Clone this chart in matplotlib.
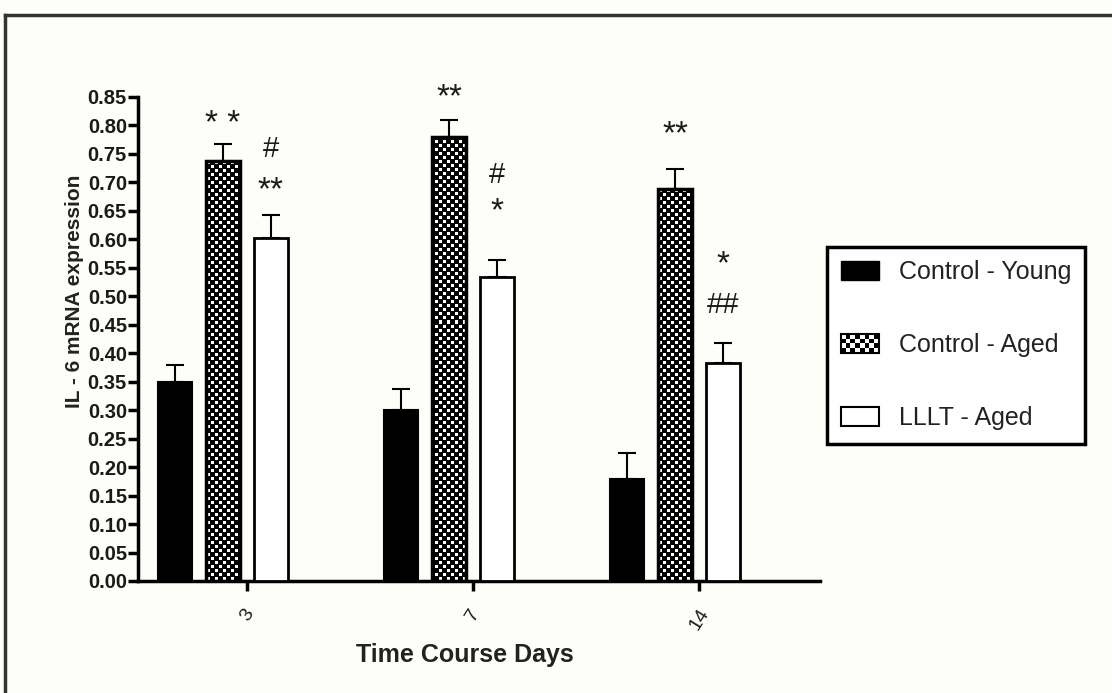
import numpy as np
import matplotlib
matplotlib.use("Agg")
import matplotlib.pyplot as plt
from matplotlib.patches import Rectangle, Patch
from matplotlib.lines import Line2D
from matplotlib.legend_handler import HandlerBase

plt.rcParams['font.family'] = ['Liberation Sans', 'DejaVu Sans']

# data
days = ['3', '7', '14']
groups = ['Control - Young', 'Control - Aged', 'LLLT - Aged']
young = [0.35, 0.30, 0.18]
young_err = [0.03, 0.037, 0.045]
aged = [0.737, 0.78, 0.688]
aged_err = [0.03, 0.03, 0.036]
lllt = [0.602, 0.534, 0.383]
lllt_err = [0.04, 0.03, 0.035]
# significance marks (text, y position) per bar
aged_marks = [[('* *', 0.81)], [('**', 0.857)], [('**', 0.792)]]
lllt_marks = [[('#', 0.762), ('**', 0.695)],
              [('#', 0.716), ('*', 0.657)],
              [('*', 0.564), ('##', 0.488)]]

W, H = 1112, 693
fig = plt.figure(figsize=(W / 100, H / 100), dpi=100, facecolor='#fdfdfa')
ax = fig.add_axes([138 / W, 1 - 581 / H, (820 - 138) / W, (581 - 97) / H])
ax.set_facecolor('none')

x = np.arange(len(days))
bw = 0.15
pos = [-0.32, -0.106, 0.106]   # bar offsets from the tick
xlim = (-0.482, 2.535)
ylim = (0, 0.85)

err_kw = dict(fmt='none', ecolor='black', elinewidth=1.5, capsize=6.5, capthick=1.5, zorder=1)

# Control - Young : solid black
ax.bar(x + pos[0], young, bw, color='black', edgecolor='black', lw=1.5, zorder=3)
ax.errorbar(x + pos[0], young, yerr=[np.zeros(3), young_err], **err_kw)

# Control - Aged : checkered
aged_bars = ax.bar(x + pos[1], aged, bw, facecolor='none', edgecolor='black', lw=2.5, zorder=4)
ax.errorbar(x + pos[1], aged, yerr=[np.zeros(3), aged_err], **err_kw)
py, px = np.mgrid[0:484, 0:682]
cell = 4
checker = (((px // cell + py // cell) % 2 == 1) & (px % cell != 0) & (py % cell != 0)).astype(float)
for b in aged_bars:
    im = ax.imshow(checker, cmap='gray', extent=(xlim[0], xlim[1], ylim[0], ylim[1]),
                   aspect='auto', interpolation='nearest', zorder=3, origin='lower')
    im.set_clip_path(b)

# LLLT - Aged : white
ax.bar(x + pos[2], lllt, bw, color='white', edgecolor='black', lw=2, zorder=3)
ax.errorbar(x + pos[2], lllt, yerr=[np.zeros(3), lllt_err], **err_kw)


def mark(xx, yy, txt):
    fs = 24 if '*' in txt else 21
    shift = -0.41 * fs if '*' in txt else -0.345 * fs
    ax.annotate(txt, (xx, yy), xytext=(0, shift), textcoords='offset points',
                ha='center', va='baseline', fontsize=fs, color='#1a1a1a',
                annotation_clip=False)


for i in range(3):
    for txt, yy in aged_marks[i]:
        mark(x[i] + pos[1], yy, txt)
    for txt, yy in lllt_marks[i]:
        mark(x[i] + pos[2], yy, txt)

ax.set_xlim(*xlim)
ax.set_ylim(*ylim)
yt = np.arange(0, 0.851, 0.05)
ax.set_yticks(yt)
ax.set_yticklabels(['%.2f' % v for v in yt], fontsize=14.5, fontweight='bold', color='#1a1a1a')
ax.set_xticks(x)
ax.set_xticklabels(days, fontsize=14, rotation=58, ha='center', va='top', color='#1a1a1a')
for s in ['top', 'right']:
    ax.spines[s].set_visible(False)
for s in ['left', 'bottom']:
    ax.spines[s].set_linewidth(2.5)
ax.tick_params(axis='y', width=2.5, length=7, direction='out', pad=1)
ax.tick_params(axis='x', width=2.5, length=7, direction='out', pad=11)

fig.text(465 / W, 1 - 655 / H, 'Time Course Days', ha='center', va='center',
         fontsize=18, fontweight='bold', color='#222222')
fig.text(75 / W, 1 - 291 / H, 'IL - 6 mRNA expression', ha='center', va='center',
         rotation=90, fontsize=15, fontweight='bold', color='#222222')


class CheckerHandler(HandlerBase):
    def create_artists(self, legend, orig_handle, xdescent, ydescent, width, height, fontsize, trans):
        arts = []
        nxx, nyy = 8, 4
        cw, ch = width / nxx, height / nyy
        for i in range(nxx):
            for j in range(nyy):
                c = 'black' if (i + j) % 2 == 0 else 'white'
                arts.append(Rectangle((-xdescent + i * cw, -ydescent + j * ch), cw, ch,
                                      facecolor=c, edgecolor='none', transform=trans))
        arts.append(Rectangle((-xdescent, -ydescent), width, height, facecolor='none',
                              edgecolor='black', lw=1.5, transform=trans))
        return arts


h_young = Patch(facecolor='black', edgecolor='black')
h_aged = Patch(facecolor='black')
h_lllt = Patch(facecolor='white', edgecolor='black', lw=1.5)
leg = fig.legend([h_young, h_aged, h_lllt], groups, loc='center',
                 bbox_to_anchor=(956 / W, 1 - 345 / H), fontsize=18,
                 handler_map={h_aged: CheckerHandler()},
                 handlelength=1.5, handleheight=0.8, labelspacing=1.95,
                 handletextpad=0.8, borderpad=0.55, fancybox=False, framealpha=1)
leg.get_frame().set_edgecolor('black')
leg.get_frame().set_linewidth(2.5)
for t in leg.get_texts():
    t.set_color('#222222')

# outer frame of the figure panel
fig.add_artist(Line2D([5 / W, 1.01], [1 - 15 / H, 1 - 15 / H], color='#333333', lw=2.5))
fig.add_artist(Line2D([5 / W, 5 / W], [1 - 15 / H, -0.01], color='#333333', lw=2.5))

fig.savefig('out.png', dpi=100, facecolor=fig.get_facecolor())
